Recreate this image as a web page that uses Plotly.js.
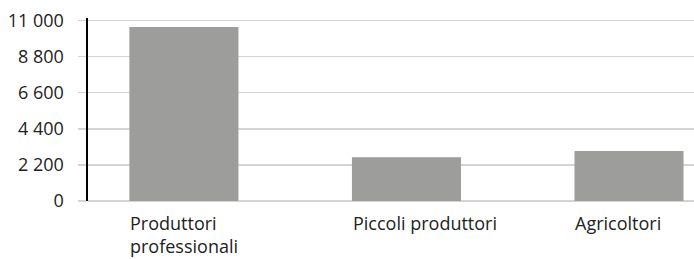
<!DOCTYPE html>
<html><head><meta charset="utf-8">
<script src="https://cdn.plot.ly/plotly-3.0.1.min.js"></script>
<style>html,body{margin:0;padding:0;background:#fff}#chart{width:694px;height:259px}</style>
</head><body><div id="chart"></div>
<script>
const categories = ["Produttori<br>professionali", "Piccoli produttori", "Agricoltori"];
const values = [10600, 2670, 3040];
const yTicks = [0, 2200, 4400, 6600, 8800, 11000];

const barWidth = 0.49;
const xs = categories.map((c, i) => i);
const labelAnnotations = categories.map((c, i) => ({
  x: i - barWidth / 2, xref: 'x', xanchor: 'left',
  y: 0, yref: 'paper', yanchor: 'top', yshift: -9, borderpad: 0,
  text: c, align: 'left', showarrow: false,
  font: {family: 'Open Sans', size: 18, color: '#222'}
}));

Plotly.newPlot('chart', [{
  type: 'bar', x: xs, y: values, width: barWidth,
  marker: {color: '#9d9d9b'}, hoverinfo: 'none'
}], {
  width: 694, height: 259,
  margin: {l: 88, r: 0, t: 18, b: 58},
  separators: '. ',
  font: {family: 'Open Sans', size: 18, color: '#222'},
  paper_bgcolor: '#fff', plot_bgcolor: '#fff',
  showlegend: false,
  annotations: labelAnnotations,
  xaxis: {
    range: [-0.431, 2.292], tickvals: xs, showticklabels: false,
    showgrid: false, zeroline: false, showline: false, ticks: '',
    fixedrange: true
  },
  yaxis: {
    range: [0, 11150], tickvals: yTicks, tickformat: ',d',
    showgrid: true, gridcolor: '#d4d4d4', gridwidth: 1.5,
    zeroline: true, zerolinecolor: '#d4d4d4', zerolinewidth: 1.5,
    showline: true, linecolor: '#000', linewidth: 2.5,
    ticks: 'outside', ticklen: 8, tickcolor: '#d4d4d4', tickwidth: 1.5,
    ticklabelstandoff: 10
  }
}, {staticPlot: true});
</script></body></html>
